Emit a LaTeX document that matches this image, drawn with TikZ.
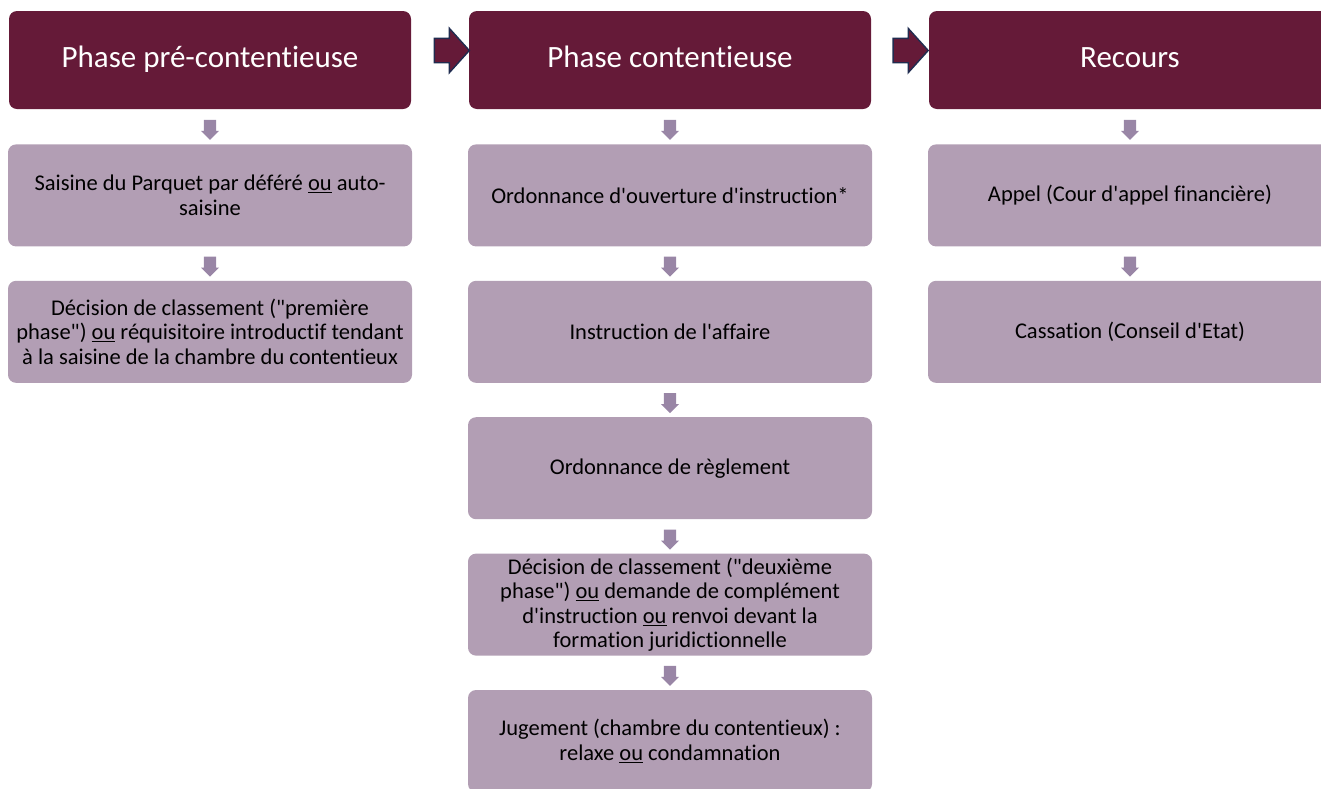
\documentclass[tikz,border=0pt]{standalone}
\usepackage{fontspec}
\setmainfont{Carlito}[Ligatures={TeXOff,NoCommon}]
\usetikzlibrary{positioning,shapes.arrows}
\definecolor{bordeaux}{RGB}{101,26,56}
\definecolor{mauve}{RGB}{178,158,180}
\definecolor{lilas}{RGB}{153,134,166}
\definecolor{marine}{RGB}{32,44,80}
\tikzset{
  phase/.style={fill=bordeaux, rounded corners=8pt, inner sep=0pt,
    minimum width=402pt, minimum height=98pt,
    text height=21pt, text depth=6pt,
    text=white, font=\fontsize{31}{36}\selectfont},
  etape/.style={fill=mauve, rounded corners=8pt, inner sep=0pt,
    minimum width=404pt, minimum height=102pt, align=center,
    font=\fontsize{22.5}{24.5}\selectfont},
  descente/.style={single arrow, fill=lilas, rotate=-90,
    inner xsep=0pt, inner ysep=6pt, minimum height=20pt,
    single arrow head extend=2.8pt},
  suite/.style={single arrow, fill=bordeaux, draw=marine, line width=1.4pt,
    inner xsep=0pt, inner ysep=11.5pt, minimum height=35pt,
    single arrow head extend=10pt, single arrow tip angle=96}
}
\begin{document}
\begin{tikzpicture}[x=1pt, y=-1pt]
    \useasboundingbox (0,0) rectangle (1321,788);

    % Headers
    \node[phase] (p1) at (210,60) {Phase pré-contentieuse};
    \node[phase] (p2) at (670,60) {Phase contentieuse};
    \node[phase] (p3) at (1130,60) {Recours};

    % Phase pre-contentieuse
    \node[etape, below=35pt of p1] (a1) {Saisine du Parquet par déféré \underline{ou} auto-\\saisine};
    \node[etape, below=34pt of a1] (a2) {Décision de classement ("première\\phase") \underline{ou} réquisitoire introductif tendant\\à la saisine de la chambre du contentieux};

    % Phase contentieuse
    \node[etape, below=35pt of p2] (b1) {Ordonnance d'ouverture d'instruction*};
    \node[etape, below=34pt of b1] (b2) {Instruction de l'affaire};
    \node[etape, below=34pt of b2] (b3) {Ordonnance de règlement};
    \node[etape, below=34pt of b3] (b4) {Décision de classement ("deuxième\\phase") \underline{ou} demande de complément\\d'instruction \underline{ou} renvoi devant la\\formation juridictionnelle};
    \node[etape, below=34pt of b4] (b5) {Jugement (chambre du contentieux) :\\relaxe \underline{ou} condamnation};

    % Recours
    \node[etape, below=35pt of p3] (c1) {Appel (Cour d'appel financière)};
    \node[etape, below=34pt of c1] (c2) {Cassation (Conseil d'Etat)};

    % Small arrows between the steps
    \foreach \a/\b in {p1/a1, a1/a2, p2/b1, b1/b2, b2/b3, b3/b4, b4/b5, p3/c1, c1/c2}
        \path (\a.south) -- (\b.north) node[midway, descente] {};

    % Arrows between the phases
    \path ([yshift=9.5pt]p1.east) -- ([yshift=9.5pt]p2.west) node[pos=0.61, suite] {};
    \path ([yshift=9.5pt]p2.east) -- ([yshift=9.5pt]p3.west) node[pos=0.59, suite] {};
\end{tikzpicture}
\end{document}
